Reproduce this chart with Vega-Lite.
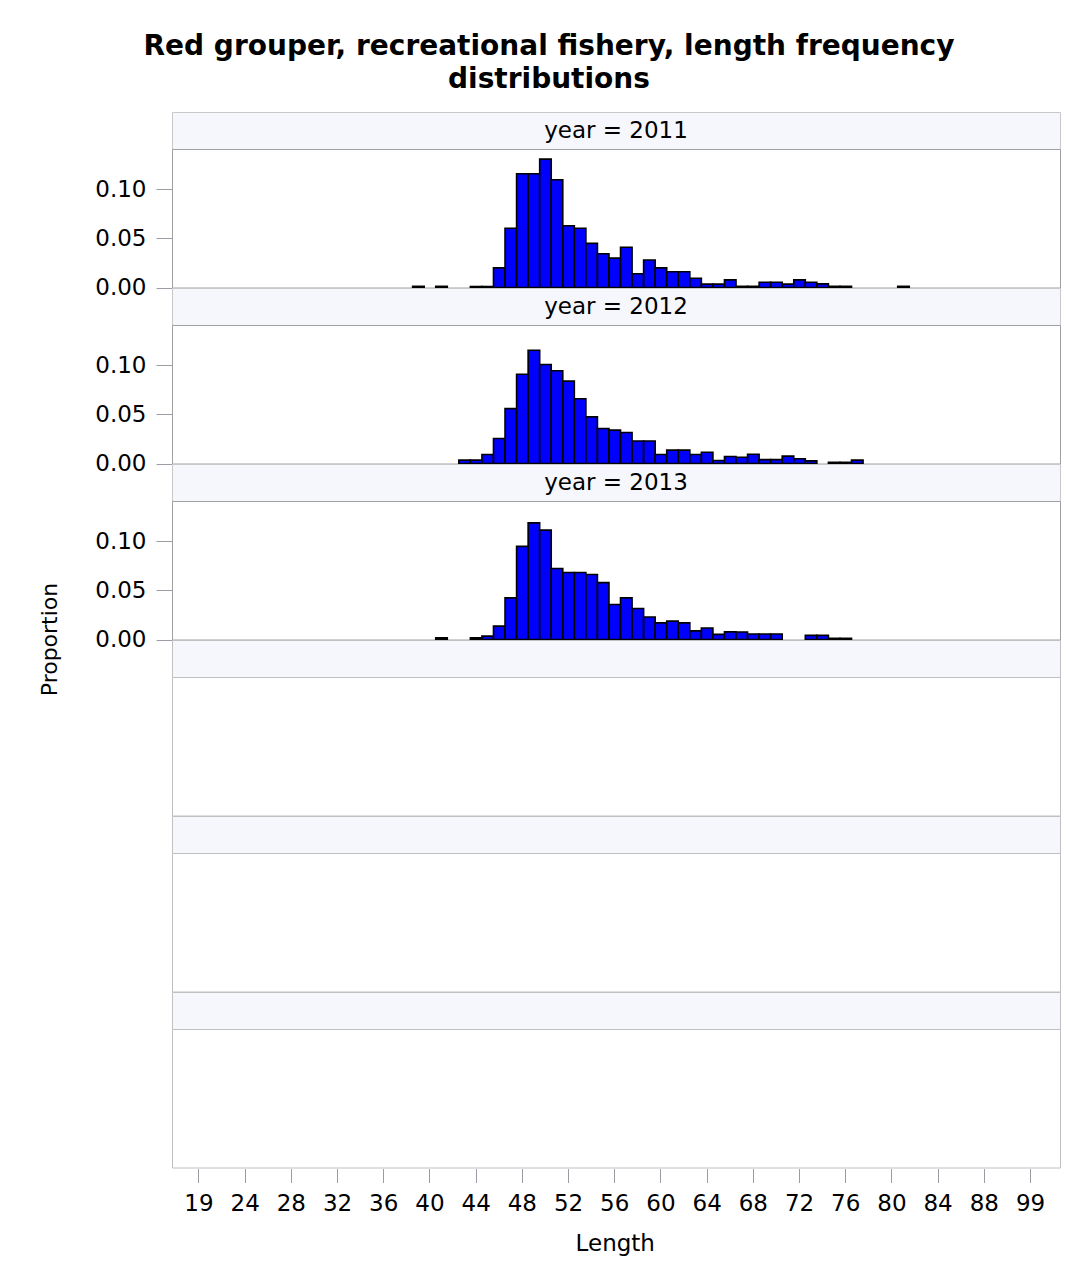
{
  "$schema": "https://vega.github.io/schema/vega-lite/v6.json",
  "background": "white",
  "padding": {"left": 37, "top": 32, "right": 12, "bottom": 12},
  "title": {
    "text": ["Red grouper, recreational fishery, length frequency", "distributions"],
    "font": "DejaVu Sans",
    "fontSize": 28,
    "fontWeight": "bold",
    "lineHeight": 33,
    "color": "black",
    "anchor": "middle",
    "offset": 18
  },
  "datasets": {
    "lf": [
      {"year": 2011, "length": 39, "prop": 0.0012},
      {"year": 2011, "length": 41, "prop": 0.0012},
      {"year": 2011, "length": 44, "prop": 0.001},
      {"year": 2011, "length": 45, "prop": 0.001},
      {"year": 2011, "length": 46, "prop": 0.020},
      {"year": 2011, "length": 47, "prop": 0.0605},
      {"year": 2011, "length": 48, "prop": 0.116},
      {"year": 2011, "length": 49, "prop": 0.116},
      {"year": 2011, "length": 50, "prop": 0.131},
      {"year": 2011, "length": 51, "prop": 0.110},
      {"year": 2011, "length": 52, "prop": 0.063},
      {"year": 2011, "length": 53, "prop": 0.0605},
      {"year": 2011, "length": 54, "prop": 0.045},
      {"year": 2011, "length": 55, "prop": 0.0344},
      {"year": 2011, "length": 56, "prop": 0.030},
      {"year": 2011, "length": 57, "prop": 0.041},
      {"year": 2011, "length": 58, "prop": 0.014},
      {"year": 2011, "length": 59, "prop": 0.028},
      {"year": 2011, "length": 60, "prop": 0.020},
      {"year": 2011, "length": 61, "prop": 0.016},
      {"year": 2011, "length": 62, "prop": 0.016},
      {"year": 2011, "length": 63, "prop": 0.0095},
      {"year": 2011, "length": 64, "prop": 0.0034},
      {"year": 2011, "length": 65, "prop": 0.0034},
      {"year": 2011, "length": 66, "prop": 0.0078},
      {"year": 2011, "length": 67, "prop": 0.0012},
      {"year": 2011, "length": 68, "prop": 0.0012},
      {"year": 2011, "length": 69, "prop": 0.0054},
      {"year": 2011, "length": 70, "prop": 0.0054},
      {"year": 2011, "length": 71, "prop": 0.0034},
      {"year": 2011, "length": 72, "prop": 0.0078},
      {"year": 2011, "length": 73, "prop": 0.0054},
      {"year": 2011, "length": 74, "prop": 0.0037},
      {"year": 2011, "length": 75, "prop": 0.0012},
      {"year": 2011, "length": 76, "prop": 0.0012},
      {"year": 2011, "length": 81, "prop": 0.0012},
      {"year": 2012, "length": 43, "prop": 0.0034},
      {"year": 2012, "length": 44, "prop": 0.0034},
      {"year": 2012, "length": 45, "prop": 0.0092},
      {"year": 2012, "length": 46, "prop": 0.0255},
      {"year": 2012, "length": 47, "prop": 0.056},
      {"year": 2012, "length": 48, "prop": 0.091},
      {"year": 2012, "length": 49, "prop": 0.1156},
      {"year": 2012, "length": 50, "prop": 0.101},
      {"year": 2012, "length": 51, "prop": 0.0946},
      {"year": 2012, "length": 52, "prop": 0.084},
      {"year": 2012, "length": 53, "prop": 0.066},
      {"year": 2012, "length": 54, "prop": 0.0476},
      {"year": 2012, "length": 55, "prop": 0.0357},
      {"year": 2012, "length": 56, "prop": 0.034},
      {"year": 2012, "length": 57, "prop": 0.0316},
      {"year": 2012, "length": 58, "prop": 0.023},
      {"year": 2012, "length": 59, "prop": 0.023},
      {"year": 2012, "length": 60, "prop": 0.0092},
      {"year": 2012, "length": 61, "prop": 0.0136},
      {"year": 2012, "length": 62, "prop": 0.0136},
      {"year": 2012, "length": 63, "prop": 0.0092},
      {"year": 2012, "length": 64, "prop": 0.0115},
      {"year": 2012, "length": 65, "prop": 0.003},
      {"year": 2012, "length": 66, "prop": 0.0072},
      {"year": 2012, "length": 67, "prop": 0.0064},
      {"year": 2012, "length": 68, "prop": 0.0095},
      {"year": 2012, "length": 69, "prop": 0.004},
      {"year": 2012, "length": 70, "prop": 0.004},
      {"year": 2012, "length": 71, "prop": 0.0075},
      {"year": 2012, "length": 72, "prop": 0.0048},
      {"year": 2012, "length": 73, "prop": 0.0027},
      {"year": 2012, "length": 75, "prop": 0.0012},
      {"year": 2012, "length": 76, "prop": 0.0012},
      {"year": 2012, "length": 77, "prop": 0.0034},
      {"year": 2013, "length": 41, "prop": 0.0017},
      {"year": 2013, "length": 44, "prop": 0.0017},
      {"year": 2013, "length": 45, "prop": 0.0034},
      {"year": 2013, "length": 46, "prop": 0.0136},
      {"year": 2013, "length": 47, "prop": 0.0425},
      {"year": 2013, "length": 48, "prop": 0.095},
      {"year": 2013, "length": 49, "prop": 0.119},
      {"year": 2013, "length": 50, "prop": 0.1116},
      {"year": 2013, "length": 51, "prop": 0.0724},
      {"year": 2013, "length": 52, "prop": 0.0684},
      {"year": 2013, "length": 53, "prop": 0.0684},
      {"year": 2013, "length": 54, "prop": 0.0663},
      {"year": 2013, "length": 55, "prop": 0.058},
      {"year": 2013, "length": 56, "prop": 0.0357},
      {"year": 2013, "length": 57, "prop": 0.0425},
      {"year": 2013, "length": 58, "prop": 0.0316},
      {"year": 2013, "length": 59, "prop": 0.023},
      {"year": 2013, "length": 60, "prop": 0.017},
      {"year": 2013, "length": 61, "prop": 0.0187},
      {"year": 2013, "length": 62, "prop": 0.017},
      {"year": 2013, "length": 63, "prop": 0.0088},
      {"year": 2013, "length": 64, "prop": 0.0117},
      {"year": 2013, "length": 65, "prop": 0.0052},
      {"year": 2013, "length": 66, "prop": 0.0078},
      {"year": 2013, "length": 67, "prop": 0.0077},
      {"year": 2013, "length": 68, "prop": 0.0056},
      {"year": 2013, "length": 69, "prop": 0.0056},
      {"year": 2013, "length": 70, "prop": 0.0056},
      {"year": 2013, "length": 73, "prop": 0.0042},
      {"year": 2013, "length": 74, "prop": 0.0042},
      {"year": 2013, "length": 75, "prop": 0.0012},
      {"year": 2013, "length": 76, "prop": 0.0012}
    ]
  },
  "spacing": 0,
  "bounds": "flush",
  "vconcat": [
    {
      "width": 888, "height": 37,
      "data": {"values": [{"label": "year = 2011"}]},
      "mark": {"type": "text", "font": "DejaVu Sans", "fontSize": 23, "color": "black"},
      "encoding": {"text": {"field": "label", "type": "nominal"}},
      "view": {"fill": "#f6f7fd", "stroke": "#c8c8c8"}
    },
    {
      "width": 888, "height": 138.5,
      "data": {"name": "lf"},
      "transform": [{"filter": "datum.year == 2011"}],
      "mark": {"type": "bar", "fill": "#0000ff", "stroke": "black", "strokeWidth": 1.6},
      "encoding": {
        "x": {"field": "length", "type": "ordinal", "scale": {"domain": [19,21,22,23,24,25,26,27,28,29,30,31,32,33,34,35,36,37,38,39,40,41,42,43,44,45,46,47,48,49,50,51,52,53,54,55,56,57,58,59,60,61,62,63,64,65,66,67,68,69,70,71,72,73,74,75,76,77,78,79,80,81,82,83,84,85,86,87,88,90,92,95,99], "paddingInner": 0, "paddingOuter": 0, "range": [21.2, 864.3]}, "axis": null},
        "y": {"field": "prop", "type": "quantitative", "scale": {"domain": [0, 0.1413], "nice": false},
          "axis": {"values": [0, 0.05, 0.1], "format": ".2f", "title": null, "grid": false, "domain": false, "tickSize": 16, "tickColor": "#9a9da3", "labelPadding": 10, "labelFont": "DejaVu Sans", "labelFontSize": 23, "labelColor": "black"}}
      },
      "view": {"stroke": "#a0a0a0"}
    },
    {
      "width": 888, "height": 37,
      "data": {"values": [{"label": "year = 2012"}]},
      "mark": {"type": "text", "font": "DejaVu Sans", "fontSize": 23, "color": "black"},
      "encoding": {"text": {"field": "label", "type": "nominal"}},
      "view": {"fill": "#f6f7fd", "stroke": "#c8c8c8"}
    },
    {
      "width": 888, "height": 138.5,
      "data": {"name": "lf"},
      "transform": [{"filter": "datum.year == 2012"}],
      "mark": {"type": "bar", "fill": "#0000ff", "stroke": "black", "strokeWidth": 1.6},
      "encoding": {
        "x": {"field": "length", "type": "ordinal", "scale": {"domain": [19,21,22,23,24,25,26,27,28,29,30,31,32,33,34,35,36,37,38,39,40,41,42,43,44,45,46,47,48,49,50,51,52,53,54,55,56,57,58,59,60,61,62,63,64,65,66,67,68,69,70,71,72,73,74,75,76,77,78,79,80,81,82,83,84,85,86,87,88,90,92,95,99], "paddingInner": 0, "paddingOuter": 0, "range": [21.2, 864.3]}, "axis": null},
        "y": {"field": "prop", "type": "quantitative", "scale": {"domain": [0, 0.1413], "nice": false},
          "axis": {"values": [0, 0.05, 0.1], "format": ".2f", "title": null, "grid": false, "domain": false, "tickSize": 16, "tickColor": "#9a9da3", "labelPadding": 10, "labelFont": "DejaVu Sans", "labelFontSize": 23, "labelColor": "black"}}
      },
      "view": {"stroke": "#a0a0a0"}
    },
    {
      "width": 888, "height": 37,
      "data": {"values": [{"label": "year = 2013"}]},
      "mark": {"type": "text", "font": "DejaVu Sans", "fontSize": 23, "color": "black"},
      "encoding": {"text": {"field": "label", "type": "nominal"}},
      "view": {"fill": "#f6f7fd", "stroke": "#c8c8c8"}
    },
    {
      "width": 888, "height": 138.5,
      "data": {"name": "lf"},
      "transform": [{"filter": "datum.year == 2013"}],
      "mark": {"type": "bar", "fill": "#0000ff", "stroke": "black", "strokeWidth": 1.6},
      "encoding": {
        "x": {"field": "length", "type": "ordinal", "scale": {"domain": [19,21,22,23,24,25,26,27,28,29,30,31,32,33,34,35,36,37,38,39,40,41,42,43,44,45,46,47,48,49,50,51,52,53,54,55,56,57,58,59,60,61,62,63,64,65,66,67,68,69,70,71,72,73,74,75,76,77,78,79,80,81,82,83,84,85,86,87,88,90,92,95,99], "paddingInner": 0, "paddingOuter": 0, "range": [21.2, 864.3]}, "axis": null},
        "y": {"field": "prop", "type": "quantitative", "scale": {"domain": [0, 0.1413], "nice": false},
          "axis": {"values": [0, 0.05, 0.1], "format": ".2f", "title": "Proportion", "grid": false, "domain": false, "tickSize": 16, "tickColor": "#9a9da3", "labelPadding": 10, "labelFont": "DejaVu Sans", "labelFontSize": 23, "labelColor": "black",
            "titleFont": "DejaVu Sans", "titleFontSize": 22, "titleFontWeight": "normal", "titleColor": "black", "titleAngle": -90, "titleAlign": "center", "titleBaseline": "alphabetic", "titleX": -116, "titleY": 138}}
      },
      "view": {"stroke": "#a0a0a0"}
    },
    {
      "width": 888, "height": 37,
      "data": {"values": [{"label": ""}]},
      "mark": {"type": "text", "font": "DejaVu Sans", "fontSize": 23},
      "encoding": {"text": {"field": "label", "type": "nominal"}},
      "view": {"fill": "#f6f7fd", "stroke": "#c0c0c0"}
    },
    {
      "width": 888, "height": 138.5,
      "data": {"values": [{"label": ""}]},
      "mark": {"type": "text", "font": "DejaVu Sans", "fontSize": 23},
      "encoding": {"text": {"field": "label", "type": "nominal"}},
      "view": {"fill": "white", "stroke": "#c0c0c0"}
    },
    {
      "width": 888, "height": 37,
      "data": {"values": [{"label": ""}]},
      "mark": {"type": "text", "font": "DejaVu Sans", "fontSize": 23},
      "encoding": {"text": {"field": "label", "type": "nominal"}},
      "view": {"fill": "#f6f7fd", "stroke": "#c0c0c0"}
    },
    {
      "width": 888, "height": 138.5,
      "data": {"values": [{"label": ""}]},
      "mark": {"type": "text", "font": "DejaVu Sans", "fontSize": 23},
      "encoding": {"text": {"field": "label", "type": "nominal"}},
      "view": {"fill": "white", "stroke": "#c0c0c0"}
    },
    {
      "width": 888, "height": 37,
      "data": {"values": [{"label": ""}]},
      "mark": {"type": "text", "font": "DejaVu Sans", "fontSize": 23},
      "encoding": {"text": {"field": "label", "type": "nominal"}},
      "view": {"fill": "#f6f7fd", "stroke": "#c0c0c0"}
    },
    {
      "width": 888, "height": 138.5,
      "data": {"name": "lf"},
      "transform": [{"filter": "datum.year == 2014"}],
      "mark": {"type": "bar", "fill": "#0000ff", "stroke": "black"},
      "encoding": {
        "x": {"field": "length", "type": "ordinal", "scale": {"domain": [19,21,22,23,24,25,26,27,28,29,30,31,32,33,34,35,36,37,38,39,40,41,42,43,44,45,46,47,48,49,50,51,52,53,54,55,56,57,58,59,60,61,62,63,64,65,66,67,68,69,70,71,72,73,74,75,76,77,78,79,80,81,82,83,84,85,86,87,88,90,92,95,99], "paddingInner": 0, "paddingOuter": 0, "range": [21.2, 864.3]},
          "axis": {"values": [19,24,28,32,36,40,44,48,52,56,60,64,68,72,76,80,84,88,99], "title": "Length", "grid": false, "domain": false, "tickSize": 14, "offset": 1, "tickColor": "#9a9da3", "labelAngle": 0, "labelPadding": 10, "labelFont": "DejaVu Sans", "labelFontSize": 23, "labelColor": "black",
            "titleFont": "DejaVu Sans", "titleFontSize": 23, "titleFontWeight": "normal", "titleColor": "black", "titlePadding": 17}}
      },
      "view": {"fill": "white", "stroke": "#c0c0c0"}
    }
  ]
}
